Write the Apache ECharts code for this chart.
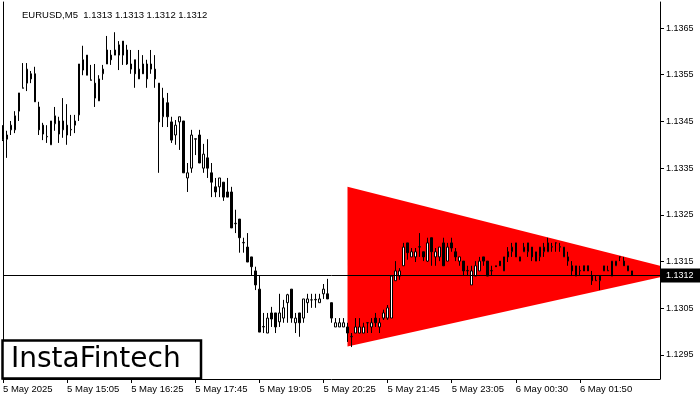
<!DOCTYPE html>
<html><head><meta charset="utf-8">
<script src="https://cdn.jsdelivr.net/npm/echarts/dist/echarts.min.js"></script>
<style>html,body{margin:0;padding:0;background:#fff}#c{width:700px;height:400px}</style>
</head><body><div id="c"></div>
<script>
const symbolTitle = 'EURUSD,M5  1.1313 1.1313 1.1312 1.1312';
const logoText = 'InstaFintech';
const slotCount = 165;
const tickIndex = [0, 16, 32, 48, 64, 80, 96, 112, 128, 144];
const tickLabels = ['5 May 2025', '5 May 15:05', '5 May 16:25', '5 May 17:45', '5 May 19:05', '5 May 20:25', '5 May 21:45', '5 May 23:05', '6 May 00:30', '6 May 01:50'];
const yTicks = [1.1295, 1.1305, 1.1315, 1.1325, 1.1335, 1.1345, 1.1355, 1.1365];
const yMin = 1.128986, yMax = 1.137057;
const currentPrice = 1.1312;
const trianglePoints = [[86, 1.13310], [169.5, 1.13128], [86, 1.12968]];

const openP = [
1.13412,1.13412,1.13432,1.13432,1.13472,1.13521,1.13532,1.13552,1.13552,1.13481,
1.13442,1.13417,1.13400,1.13445,1.13451,1.13432,1.13442,1.13432,1.13442,1.13464,
1.13560,1.13592,1.13539,1.13532,1.13494,1.13552,1.13573,1.13592,1.13592,1.13592,
1.13622,1.13603,1.13562,1.13582,1.13541,1.13573,1.13541,1.13562,1.13562,1.13532,
1.13460,1.13490,1.13449,1.13421,1.13449,1.13451,1.13329,1.13350,1.13412,1.13421,
1.13350,1.13372,1.13340,1.13310,1.13310,1.13320,1.13299,1.13299,1.13231,1.13241,
1.13190,1.13181,1.13160,1.13130,1.13091,1.13010,1.12997,1.13040,1.13040,1.13021,
1.13029,1.13062,1.13091,1.13019,1.13040,1.13029,1.13062,1.13068,1.13068,1.13062,
1.13081,1.13081,1.13062,1.13010,1.13010,1.13010,1.13010,1.12989,1.12997,1.12997,
1.12997,1.13019,1.13010,1.13029,1.13010,1.13029,1.13029,1.13029,1.13109,1.13119,
1.13141,1.13190,1.13160,1.13160,1.13181,1.13171,1.13151,1.13201,1.13160,1.13160,
1.13190,1.13151,1.13190,1.13171,1.13151,1.13151,1.13130,1.13100,1.13119,1.13130,
1.13160,1.13151,1.13130,1.13141,1.13151,1.13130,1.13171,1.13171,1.13190,1.13151,
1.13171,1.13171,1.13181,1.13151,1.13160,1.13171,1.13171,1.13181,1.13190,1.13181,
1.13160,1.13160,1.13141,1.13119,1.13130,1.13141,1.13141,1.13119,1.13109,1.13109,
1.13130,1.13130,1.13119,1.13141,1.13160,1.13151,1.13130,1.13130];
const closeP = [
1.13421,1.13421,1.13442,1.13462,1.13511,1.13522,1.13562,1.13541,1.13492,1.13432,
1.13423,1.13418,1.13451,1.13462,1.13423,1.13451,1.13421,1.13433,1.13451,1.13573,
1.13582,1.13549,1.13538,1.13500,1.13541,1.13562,1.13603,1.13582,1.13603,1.13614,
1.13592,1.13573,1.13573,1.13552,1.13562,1.13552,1.13573,1.13573,1.13541,1.13449,
1.13500,1.13460,1.13410,1.13442,1.13460,1.13340,1.13340,1.13421,1.13413,1.13361,
1.13380,1.13350,1.13320,1.13299,1.13329,1.13288,1.13288,1.13222,1.13232,1.13201,
1.13191,1.13149,1.13139,1.13100,1.12999,1.13011,1.13029,1.13027,1.13010,1.13040,
1.13051,1.13079,1.13029,1.13029,1.13019,1.13070,1.13070,1.13068,1.13069,1.13070,
1.13091,1.13070,1.13029,1.13019,1.13019,1.13019,1.12997,1.12990,1.13010,1.13010,
1.13010,1.13019,1.13019,1.13019,1.13019,1.13040,1.13051,1.13119,1.13130,1.13130,
1.13181,1.13169,1.13171,1.13171,1.13182,1.13160,1.13190,1.13171,1.13171,1.13181,
1.13141,1.13181,1.13179,1.13160,1.13160,1.13130,1.13131,1.13130,1.13141,1.13151,
1.13151,1.13119,1.13131,1.13139,1.13141,1.13160,1.13160,1.13181,1.13160,1.13160,
1.13181,1.13190,1.13160,1.13171,1.13181,1.13181,1.13190,1.13182,1.13190,1.13182,
1.13181,1.13151,1.13130,1.13141,1.13131,1.13130,1.13130,1.13109,1.13110,1.13119,
1.13141,1.13131,1.13151,1.13151,1.13160,1.13141,1.13141,1.13120];
const lowP = [
1.13408,1.13372,1.13421,1.13425,1.13451,1.13521,1.13515,1.13532,1.13492,1.13421,
1.13410,1.13404,1.13400,1.13430,1.13404,1.13415,1.13400,1.13419,1.13425,1.13451,
1.13549,1.13549,1.13538,1.13481,1.13494,1.13539,1.13573,1.13571,1.13592,1.13560,
1.13571,1.13571,1.13552,1.13522,1.13541,1.13552,1.13522,1.13552,1.13522,1.13340,
1.13438,1.13438,1.13404,1.13400,1.13389,1.13340,1.13299,1.13340,1.13378,1.13361,
1.13340,1.13329,1.13288,1.13288,1.13288,1.13280,1.13288,1.13222,1.13211,1.13169,
1.13169,1.13149,1.13121,1.13089,1.12999,1.12997,1.12997,1.13010,1.12997,1.13010,
1.13019,1.13019,1.13019,1.12997,1.12989,1.13019,1.13040,1.13051,1.13051,1.13062,
1.13070,1.13070,1.13019,1.13010,1.13010,1.13010,1.12978,1.12967,1.12997,1.12997,
1.12997,1.12997,1.12997,1.13010,1.12997,1.13025,1.13025,1.13029,1.13109,1.13111,
1.13141,1.13154,1.13160,1.13149,1.13160,1.13151,1.13149,1.13141,1.13141,1.13151,
1.13141,1.13151,1.13171,1.13151,1.13141,1.13119,1.13119,1.13100,1.13119,1.13130,
1.13141,1.13119,1.13121,1.13139,1.13141,1.13130,1.13149,1.13160,1.13160,1.13151,
1.13171,1.13160,1.13151,1.13151,1.13151,1.13160,1.13171,1.13171,1.13171,1.13171,
1.13160,1.13141,1.13119,1.13119,1.13119,1.13130,1.13130,1.13100,1.13109,1.13089,
1.13130,1.13130,1.13119,1.13141,1.13151,1.13141,1.13130,1.13120];
const highP = [
1.13442,1.13430,1.13451,1.13472,1.13511,1.13575,1.13575,1.13558,1.13567,1.13492,
1.13447,1.13442,1.13451,1.13481,1.13460,1.13500,1.13487,1.13464,1.13464,1.13573,
1.13612,1.13592,1.13571,1.13573,1.13549,1.13571,1.13633,1.13603,1.13641,1.13622,
1.13622,1.13614,1.13603,1.13582,1.13603,1.13592,1.13582,1.13603,1.13592,1.13532,
1.13522,1.13511,1.13460,1.13453,1.13460,1.13451,1.13361,1.13432,1.13413,1.13432,
1.13402,1.13412,1.13361,1.13329,1.13329,1.13320,1.13329,1.13310,1.13261,1.13241,
1.13201,1.13211,1.13160,1.13139,1.13121,1.13040,1.13040,1.13053,1.13040,1.13081,
1.13068,1.13081,1.13091,1.13040,1.13040,1.13070,1.13081,1.13081,1.13081,1.13081,
1.13102,1.13113,1.13062,1.13029,1.13029,1.13029,1.13019,1.12997,1.13029,1.13029,
1.13019,1.13020,1.13029,1.13040,1.13029,1.13047,1.13057,1.13119,1.13151,1.13136,
1.13190,1.13190,1.13179,1.13179,1.13211,1.13171,1.13201,1.13201,1.13179,1.13181,
1.13201,1.13190,1.13201,1.13179,1.13160,1.13151,1.13141,1.13141,1.13151,1.13160,
1.13160,1.13151,1.13141,1.13141,1.13151,1.13160,1.13181,1.13190,1.13190,1.13160,
1.13190,1.13190,1.13181,1.13171,1.13181,1.13190,1.13201,1.13190,1.13191,1.13190,
1.13181,1.13171,1.13151,1.13141,1.13141,1.13141,1.13141,1.13130,1.13119,1.13119,
1.13141,1.13141,1.13151,1.13151,1.13161,1.13160,1.13141,1.13130];

const categories = Array.from({length: slotCount}, (_, i) => String(i));
const ohlc = openP.map((o, i) => [o, closeP[i], lowP[i], highP[i]]);
const isTick = (idx) => tickIndex.indexOf(idx) >= 0;
const FONT = '"Liberation Sans", Arial, sans-serif';

function clipRight(pts, xr) {
  const out = [];
  for (let k = 0; k < pts.length; k++) {
    const a = pts[k], b = pts[(k + 1) % pts.length];
    const ain = a[0] <= xr, bin = b[0] <= xr;
    if (ain) out.push(a);
    if (ain !== bin) {
      const t = (xr - a[0]) / (b[0] - a[0]);
      out.push([xr, a[1] + t * (b[1] - a[1])]);
    }
  }
  return out;
}

const chart = echarts.init(document.getElementById('c'));
chart.setOption({
  animation: false,
  backgroundColor: '#fff',
  title: {
    text: symbolTitle, left: 17, top: 5,
    textStyle: {fontSize: 9.5, fontWeight: 'normal', color: '#000', fontFamily: FONT}
  },
  grid: {left: 3, right: 40, top: 2, bottom: 21},
  xAxis: {
    type: 'category', data: categories, boundaryGap: false,
    axisLine: {show: true, lineStyle: {color: '#000', width: 1}},
    axisTick: {show: true, interval: isTick, length: 4, lineStyle: {color: '#000'}},
    axisLabel: {
      show: true, interval: isTick, align: 'left', margin: 5,
      color: '#000', fontSize: 9.5, fontFamily: FONT,
      formatter: (v, idx) => tickLabels[tickIndex.indexOf(idx)] || ''
    },
    splitLine: {show: false}
  },
  yAxis: [{
    type: 'value', position: 'right', min: yMin, max: yMax, scale: true,
    axisLine: {show: true, lineStyle: {color: '#000', width: 1}},
    axisTick: {show: true, customValues: yTicks, length: 4, lineStyle: {color: '#000'}},
    axisLabel: {show: true, customValues: yTicks, margin: 6, color: '#000', fontSize: 9, fontFamily: FONT,
      formatter: v => Number(v).toFixed(4)},
    splitLine: {show: false}
  }, {
    type: 'value', position: 'left', min: yMin, max: yMax, scale: true,
    axisLine: {show: true, lineStyle: {color: '#000', width: 1}},
    axisTick: {show: false}, axisLabel: {show: false}, splitLine: {show: false}
  }],
  series: [{
    type: 'custom', name: 'triangle', z: 1, data: trianglePoints,
    encode: {x: 0, y: 1}, clip: false,
    renderItem: function (params, api) {
      if (params.dataIndex !== 0) return;
      const pts = trianglePoints.map(p => api.coord(p));
      const cs = params.coordSys;
      const poly = clipRight(pts, cs.x + cs.width);
      return {type: 'polygon', shape: {points: poly}, style: {fill: '#ff0000'}, silent: true};
    }
  }, {
    type: 'line', name: 'price', z: 2, data: [], yAxisIndex: 0, silent: true,
    markLine: {
      silent: true, symbol: ['none', 'none'], animation: false, precision: 5,
      lineStyle: {color: '#000', width: 1, type: 'solid'},
      label: {show: true, position: 'end', distance: 1, formatter: () => currentPrice.toFixed(4),
        color: '#fff', backgroundColor: '#000', fontSize: 9, fontFamily: FONT, padding: [3, 10, 2, 5]},
      data: [{yAxis: currentPrice}]
    }
  }, {
    type: 'candlestick', name: 'EURUSD', z: 3, data: ohlc, barWidth: 2,
    itemStyle: {color: '#ffffff', color0: '#000000', borderColor: '#000000', borderColor0: '#000000', borderWidth: 1}
  }],
  graphic: [{
    type: 'rect', shape: {x: 2.5, y: 340.5, width: 198.5, height: 38}, z: 100,
    style: {fill: '#fff', stroke: '#000', lineWidth: 2.5}
  }, {
    type: 'text', x: 11, y: 360, z: 101,
    style: {text: logoText, fill: '#000', font: 'normal 28px "DejaVu Sans", sans-serif', verticalAlign: 'middle', textAlign: 'left'}
  }]
});
</script></body></html>
